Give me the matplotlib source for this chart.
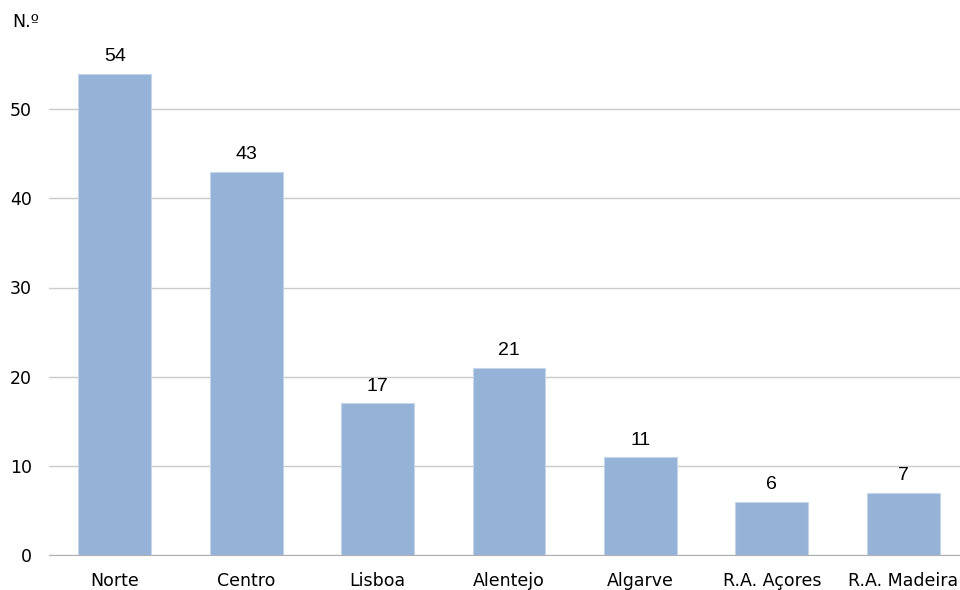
import matplotlib.pyplot as plt

regioes = ['Norte', 'Centro', 'Lisboa', 'Alentejo', 'Algarve', 'R.A. Açores', 'R.A. Madeira']
valores = [54, 43, 17, 21, 11, 6, 7]
yticks = [0, 10, 20, 30, 40, 50]

fig = plt.figure(figsize=(9.6, 5.9), dpi=100)
# area de desenho vai um pouco alem da margem direita
ax = fig.add_axes([49/960, 35/590, 920/960, 535/590])

x = range(len(regioes))
ax.bar(x, valores, width=0.555, color='#95B3D7', edgecolor='#C5D6EA', linewidth=0.8, zorder=3)
for i, v in zip(x, valores):
    ax.annotate(str(v), (i, v), xytext=(0, 6), textcoords='offset points',
                ha='center', va='bottom', fontsize=14, family='Liberation Sans')

ax.set_xlim(-0.5, 6.5)
ax.set_ylim(0, 60)
ax.set_yticks(yticks)
ax.set_xticks(list(x))
ax.set_xticklabels(regioes)
ax.yaxis.grid(True, color='#CBCBCB', linewidth=1)
ax.set_axisbelow(True)
for s in ['top', 'right', 'left']:
    ax.spines[s].set_visible(False)
ax.spines['bottom'].set_color('#B0B0B0')
ax.tick_params(axis='both', length=0, labelsize=12.5)
ax.tick_params(axis='y', pad=12.5)
ax.tick_params(axis='x', pad=12)

fig.text(12/960, 1 - 22/590, 'N.º', fontsize=12.5, va='center', ha='left')

fig.savefig('out.png', dpi=100)
